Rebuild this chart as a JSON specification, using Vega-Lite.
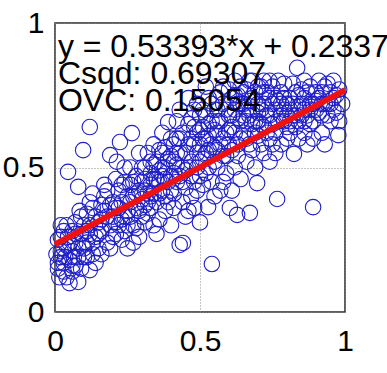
{
  "$schema": "https://vega.github.io/schema/vega-lite/v6.json",
  "width": 290,
  "height": 289,
  "autosize": "none",
  "padding": {"left": 55, "top": 23, "right": 42, "bottom": 61},
  "background": "white",
  "config": {
    "view": {"stroke": "#2a2a2a", "strokeWidth": 1.5},
    "font": "Liberation Sans",
    "axis": {
      "labelFont": "Liberation Sans",
      "labelFontSize": 30,
      "labelColor": "#000000",
      "domain": false,
      "ticks": false,
      "grid": true,
      "gridDash": [1, 2],
      "gridColor": "#888888",
      "gridWidth": 1,
      "title": null
    }
  },
  "datasets": {
    "pts": [
      {"x":0.01,"y":0.17},{"x":0.02,"y":0.21},{"x":0.01,"y":0.25},{"x":0.03,"y":0.14},{"x":0.02,"y":0.19},{"x":0.04,"y":0.23},{"x":0.03,"y":0.28},{"x":0.005,"y":0.2},{"x":0.015,"y":0.12},{"x":0.04,"y":0.12},{"x":0.05,"y":0.18},{"x":0.03,"y":0.22},{"x":0.02,"y":0.3},{"x":0.045,"y":0.26},{"x":0.01,"y":0.15},{"x":0.035,"y":0.19},{"x":0.06,"y":0.21},{"x":0.05,"y":0.1},{"x":0.045,"y":0.485},{"x":0.06,"y":0.28},
      {"x":0.07,"y":0.16},{"x":0.08,"y":0.104},{"x":0.08,"y":0.22},{"x":0.09,"y":0.27},{"x":0.07,"y":0.31},{"x":0.06,"y":0.14},{"x":0.1,"y":0.19},{"x":0.09,"y":0.15},{"x":0.08,"y":0.433},{"x":0.097,"y":0.56},{"x":0.07,"y":0.24},{"x":0.1,"y":0.3},{"x":0.095,"y":0.23},{"x":0.065,"y":0.19},{"x":0.085,"y":0.35},
      {"x":0.12,"y":0.64},{"x":0.12,"y":0.145},{"x":0.11,"y":0.24},{"x":0.13,"y":0.2},{"x":0.12,"y":0.3},{"x":0.14,"y":0.26},{"x":0.11,"y":0.34},{"x":0.15,"y":0.22},{"x":0.13,"y":0.36},{"x":0.14,"y":0.17},{"x":0.12,"y":0.27},{"x":0.15,"y":0.31},{"x":0.13,"y":0.41},{"x":0.11,"y":0.19},
      {"x":0.17,"y":0.44},{"x":0.19,"y":0.543},{"x":0.16,"y":0.28},{"x":0.18,"y":0.24},{"x":0.17,"y":0.35},{"x":0.19,"y":0.3},{"x":0.16,"y":0.2},{"x":0.2,"y":0.38},{"x":0.18,"y":0.33},{"x":0.2,"y":0.26},{"x":0.17,"y":0.4},{"x":0.19,"y":0.22},{"x":0.16,"y":0.37},{"x":0.213,"y":0.52},
      {"x":0.224,"y":0.588},{"x":0.21,"y":0.46},{"x":0.23,"y":0.32},{"x":0.24,"y":0.28},{"x":0.22,"y":0.42},{"x":0.21,"y":0.36},{"x":0.25,"y":0.4},{"x":0.23,"y":0.25},{"x":0.24,"y":0.45},{"x":0.22,"y":0.3},{"x":0.25,"y":0.35},{"x":0.21,"y":0.27},{"x":0.24,"y":0.5},{"x":0.23,"y":0.38},{"x":0.25,"y":0.22},
      {"x":0.265,"y":0.619},{"x":0.26,"y":0.44},{"x":0.28,"y":0.36},{"x":0.27,"y":0.3},{"x":0.29,"y":0.42},{"x":0.26,"y":0.33},{"x":0.3,"y":0.39},{"x":0.28,"y":0.47},{"x":0.29,"y":0.26},{"x":0.27,"y":0.4},{"x":0.3,"y":0.33},{"x":0.26,"y":0.5},{"x":0.28,"y":0.29},{"x":0.3,"y":0.45},{"x":0.29,"y":0.55},{"x":0.27,"y":0.24},
      {"x":0.31,"y":0.5},{"x":0.32,"y":0.41},{"x":0.33,"y":0.36},{"x":0.31,"y":0.31},{"x":0.34,"y":0.46},{"x":0.32,"y":0.55},{"x":0.35,"y":0.38},{"x":0.33,"y":0.44},{"x":0.34,"y":0.3},{"x":0.31,"y":0.42},{"x":0.35,"y":0.52},{"x":0.32,"y":0.34},{"x":0.34,"y":0.58},{"x":0.33,"y":0.48},{"x":0.35,"y":0.27},{"x":0.31,"y":0.37},
      {"x":0.36,"y":0.45},{"x":0.37,"y":0.5},{"x":0.38,"y":0.4},{"x":0.39,"y":0.657},{"x":0.36,"y":0.56},{"x":0.38,"y":0.35},{"x":0.37,"y":0.42},{"x":0.4,"y":0.47},{"x":0.39,"y":0.53},{"x":0.36,"y":0.32},{"x":0.4,"y":0.6},{"x":0.38,"y":0.46},{"x":0.37,"y":0.62},{"x":0.39,"y":0.38},{"x":0.4,"y":0.3},{"x":0.36,"y":0.49},{"x":0.38,"y":0.57},
      {"x":0.41,"y":0.52},{"x":0.42,"y":0.45},{"x":0.43,"y":0.6},{"x":0.44,"y":0.5},{"x":0.41,"y":0.41},{"x":0.43,"y":0.232},{"x":0.441,"y":0.239},{"x":0.42,"y":0.66},{"x":0.45,"y":0.55},{"x":0.43,"y":0.47},{"x":0.41,"y":0.36},{"x":0.44,"y":0.62},{"x":0.45,"y":0.43},{"x":0.42,"y":0.55},{"x":0.43,"y":0.7},{"x":0.45,"y":0.33},{"x":0.41,"y":0.58},{"x":0.44,"y":0.38},
      {"x":0.46,"y":0.5},{"x":0.47,"y":0.6},{"x":0.48,"y":0.45},{"x":0.49,"y":0.55},{"x":0.46,"y":0.65},{"x":0.48,"y":0.7},{"x":0.47,"y":0.4},{"x":0.5,"y":0.52},{"x":0.49,"y":0.62},{"x":0.46,"y":0.35},{"x":0.5,"y":0.31},{"x":0.48,"y":0.58},{"x":0.47,"y":0.52},{"x":0.5,"y":0.68},{"x":0.49,"y":0.42},{"x":0.46,"y":0.74},{"x":0.48,"y":0.36},{"x":0.5,"y":0.47},
      {"x":0.51,"y":0.6},{"x":0.52,"y":0.55},{"x":0.528,"y":0.363},{"x":0.541,"y":0.166},{"x":0.51,"y":0.7},{"x":0.53,"y":0.65},{"x":0.52,"y":0.48},{"x":0.54,"y":0.58},{"x":0.55,"y":0.52},{"x":0.51,"y":0.44},{"x":0.53,"y":0.74},{"x":0.55,"y":0.63},{"x":0.52,"y":0.68},{"x":0.54,"y":0.45},{"x":0.55,"y":0.4},{"x":0.51,"y":0.53},{"x":0.53,"y":0.56},{"x":0.52,"y":0.78},
      {"x":0.56,"y":0.66},{"x":0.57,"y":0.58},{"x":0.58,"y":0.72},{"x":0.59,"y":0.62},{"x":0.56,"y":0.5},{"x":0.58,"y":0.45},{"x":0.57,"y":0.76},{"x":0.603,"y":0.36},{"x":0.59,"y":0.54},{"x":0.56,"y":0.7},{"x":0.6,"y":0.68},{"x":0.58,"y":0.6},{"x":0.57,"y":0.42},{"x":0.6,"y":0.77},{"x":0.59,"y":0.48},{"x":0.56,"y":0.56},{"x":0.6,"y":0.58},
      {"x":0.61,"y":0.64},{"x":0.62,"y":0.7},{"x":0.628,"y":0.336},{"x":0.64,"y":0.6},{"x":0.61,"y":0.74},{"x":0.62,"y":0.5},{"x":0.63,"y":0.67},{"x":0.65,"y":0.72},{"x":0.64,"y":0.78},{"x":0.61,"y":0.56},{"x":0.65,"y":0.62},{"x":0.62,"y":0.8},{"x":0.63,"y":0.58},{"x":0.64,"y":0.46},{"x":0.65,"y":0.68},{"x":0.61,"y":0.42},{"x":0.63,"y":0.75},
      {"x":0.672,"y":0.343},{"x":0.66,"y":0.7},{"x":0.68,"y":0.65},{"x":0.69,"y":0.76},{"x":0.66,"y":0.6},{"x":0.7,"y":0.72},{"x":0.68,"y":0.56},{"x":0.697,"y":0.446},{"x":0.67,"y":0.8},{"x":0.69,"y":0.62},{"x":0.66,"y":0.52},{"x":0.68,"y":0.74},{"x":0.7,"y":0.66},{"x":0.67,"y":0.68},{"x":0.69,"y":0.5},{"x":0.7,"y":0.78},
      {"x":0.71,"y":0.7},{"x":0.72,"y":0.64},{"x":0.73,"y":0.76},{"x":0.74,"y":0.6},{"x":0.71,"y":0.58},{"x":0.72,"y":0.8},{"x":0.73,"y":0.68},{"x":0.75,"y":0.72},{"x":0.74,"y":0.52},{"x":0.71,"y":0.78},{"x":0.75,"y":0.65},{"x":0.72,"y":0.55},{"x":0.73,"y":0.62},{"x":0.74,"y":0.74},{"x":0.75,"y":0.58},
      {"x":0.766,"y":0.391},{"x":0.76,"y":0.7},{"x":0.78,"y":0.76},{"x":0.79,"y":0.66},{"x":0.76,"y":0.62},{"x":0.8,"y":0.72},{"x":0.78,"y":0.58},{"x":0.77,"y":0.8},{"x":0.79,"y":0.74},{"x":0.8,"y":0.64},{"x":0.76,"y":0.55},{"x":0.78,"y":0.68},{"x":0.8,"y":0.6},{"x":0.77,"y":0.73},
      {"x":0.824,"y":0.547},{"x":0.835,"y":0.845},{"x":0.81,"y":0.7},{"x":0.83,"y":0.76},{"x":0.84,"y":0.66},{"x":0.81,"y":0.62},{"x":0.85,"y":0.72},{"x":0.82,"y":0.79},{"x":0.84,"y":0.6},{"x":0.83,"y":0.68},{"x":0.85,"y":0.77},{"x":0.81,"y":0.74},{"x":0.84,"y":0.71},
      {"x":0.89,"y":0.363},{"x":0.86,"y":0.74},{"x":0.87,"y":0.68},{"x":0.88,"y":0.78},{"x":0.86,"y":0.62},{"x":0.89,"y":0.72},{"x":0.88,"y":0.65},{"x":0.9,"y":0.76},{"x":0.87,"y":0.58},{"x":0.9,"y":0.7},{"x":0.86,"y":0.8},{"x":0.89,"y":0.6},
      {"x":0.91,"y":0.74},{"x":0.92,"y":0.68},{"x":0.93,"y":0.78},{"x":0.94,"y":0.72},{"x":0.92,"y":0.62},{"x":0.95,"y":0.76},{"x":0.96,"y":0.7},{"x":0.977,"y":0.612},{"x":0.97,"y":0.75},{"x":0.95,"y":0.66},{"x":0.93,"y":0.58},{"x":0.99,"y":0.72},{"x":0.96,"y":0.8},{"x":0.91,"y":0.8},
      {"x":0.02,"y":0.26},{"x":0.03,"y":0.17},{"x":0.05,"y":0.24},{"x":0.06,"y":0.16},{"x":0.04,"y":0.3},{"x":0.08,"y":0.19},{"x":0.09,"y":0.33},{"x":0.11,"y":0.28},{"x":0.13,"y":0.24},{"x":0.1,"y":0.22},{"x":0.07,"y":0.27},{"x":0.14,"y":0.33},{"x":0.12,"y":0.38},{"x":0.15,"y":0.27},
      {"x":0.16,"y":0.32},{"x":0.18,"y":0.42},{"x":0.2,"y":0.33},{"x":0.22,"y":0.36},{"x":0.23,"y":0.44},{"x":0.25,"y":0.3},{"x":0.26,"y":0.38},{"x":0.28,"y":0.41},{"x":0.29,"y":0.35},{"x":0.19,"y":0.37},{"x":0.21,"y":0.31},{"x":0.24,"y":0.33},{"x":0.27,"y":0.45},{"x":0.3,"y":0.5},
      {"x":0.31,"y":0.46},{"x":0.32,"y":0.38},{"x":0.33,"y":0.52},{"x":0.34,"y":0.41},{"x":0.35,"y":0.46},{"x":0.36,"y":0.41},{"x":0.37,"y":0.55},{"x":0.38,"y":0.5},{"x":0.39,"y":0.45},{"x":0.4,"y":0.54},{"x":0.41,"y":0.48},{"x":0.42,"y":0.51},{"x":0.43,"y":0.55},{"x":0.44,"y":0.45},{"x":0.45,"y":0.49},{"x":0.42,"y":0.6},{"x":0.4,"y":0.42},{"x":0.37,"y":0.47},{"x":0.34,"y":0.51},{"x":0.33,"y":0.4},
      {"x":0.46,"y":0.58},{"x":0.47,"y":0.47},{"x":0.48,"y":0.64},{"x":0.49,"y":0.5},{"x":0.5,"y":0.58},{"x":0.51,"y":0.64},{"x":0.52,"y":0.6},{"x":0.53,"y":0.5},{"x":0.54,"y":0.66},{"x":0.55,"y":0.7},{"x":0.56,"y":0.62},{"x":0.57,"y":0.66},{"x":0.58,"y":0.54},{"x":0.59,"y":0.7},{"x":0.6,"y":0.63},{"x":0.47,"y":0.67},{"x":0.5,"y":0.63},{"x":0.53,"y":0.61},{"x":0.55,"y":0.57},{"x":0.58,"y":0.78},{"x":0.54,"y":0.72},{"x":0.49,"y":0.72},
      {"x":0.61,"y":0.68},{"x":0.62,"y":0.62},{"x":0.63,"y":0.72},{"x":0.64,"y":0.66},{"x":0.65,"y":0.76},{"x":0.66,"y":0.66},{"x":0.67,"y":0.73},{"x":0.68,"y":0.7},{"x":0.69,"y":0.66},{"x":0.7,"y":0.61},{"x":0.71,"y":0.65},{"x":0.72,"y":0.72},{"x":0.73,"y":0.7},{"x":0.74,"y":0.68},{"x":0.75,"y":0.78},{"x":0.62,"y":0.75},{"x":0.64,"y":0.72},{"x":0.66,"y":0.77},{"x":0.68,"y":0.8},{"x":0.7,"y":0.69},{"x":0.72,"y":0.76},{"x":0.74,"y":0.8},{"x":0.63,"y":0.54},{"x":0.67,"y":0.58},
      {"x":0.76,"y":0.74},{"x":0.77,"y":0.66},{"x":0.78,"y":0.72},{"x":0.79,"y":0.79},{"x":0.8,"y":0.68},{"x":0.81,"y":0.66},{"x":0.82,"y":0.72},{"x":0.83,"y":0.64},{"x":0.84,"y":0.75},{"x":0.85,"y":0.68},{"x":0.86,"y":0.7},{"x":0.87,"y":0.76},{"x":0.88,"y":0.72},{"x":0.89,"y":0.66},{"x":0.9,"y":0.73},{"x":0.91,"y":0.69},{"x":0.92,"y":0.76},{"x":0.93,"y":0.72},{"x":0.94,"y":0.68},{"x":0.95,"y":0.72},{"x":0.96,"y":0.74},{"x":0.97,"y":0.69},{"x":0.98,"y":0.77},{"x":0.79,"y":0.7},{"x":0.82,"y":0.68},{"x":0.86,"y":0.66},{"x":0.88,"y":0.7},{"x":0.92,"y":0.72},{"x":0.94,"y":0.79},{"x":0.98,"y":0.66}
    ],
    "fit": [{"x": 0, "y": 0.23375}, {"x": 1, "y": 0.76768}],
    "notes": [
      {"x": 0.01, "y": 0.882, "label": "y = 0.53393*x + 0.23375"},
      {"x": 0.01, "y": 0.788, "label": "Csqd: 0.69307"},
      {"x": 0.01, "y": 0.694, "label": "OVC: 0.15054"}
    ]
  },
  "layer": [
    {
      "data": {"name": "pts"},
      "mark": {"type": "point", "shape": "circle", "filled": false, "size": 240, "strokeWidth": 1.1, "color": "#1f1fc6", "opacity": 1},
      "encoding": {
        "x": {"field": "x", "type": "quantitative", "scale": {"domain": [0, 1], "nice": false}, "axis": {"values": [0, 0.5, 1], "format": "~g", "labelPadding": 14, "labelFlush": false}},
        "y": {"field": "y", "type": "quantitative", "scale": {"domain": [0, 1], "nice": false}, "axis": {"values": [0, 0.5, 1], "format": "~g", "labelPadding": 11, "labelFlush": false}}
      }
    },
    {
      "data": {"name": "fit"},
      "mark": {"type": "line", "color": "#ee1111", "strokeWidth": 6},
      "encoding": {
        "x": {"field": "x", "type": "quantitative"},
        "y": {"field": "y", "type": "quantitative"}
      }
    },
    {
      "data": {"name": "notes"},
      "mark": {"type": "text", "align": "left", "baseline": "alphabetic", "fontSize": 32, "color": "#000000", "font": "Liberation Sans"},
      "encoding": {
        "x": {"field": "x", "type": "quantitative"},
        "y": {"field": "y", "type": "quantitative"},
        "text": {"field": "label"}
      }
    }
  ]
}
